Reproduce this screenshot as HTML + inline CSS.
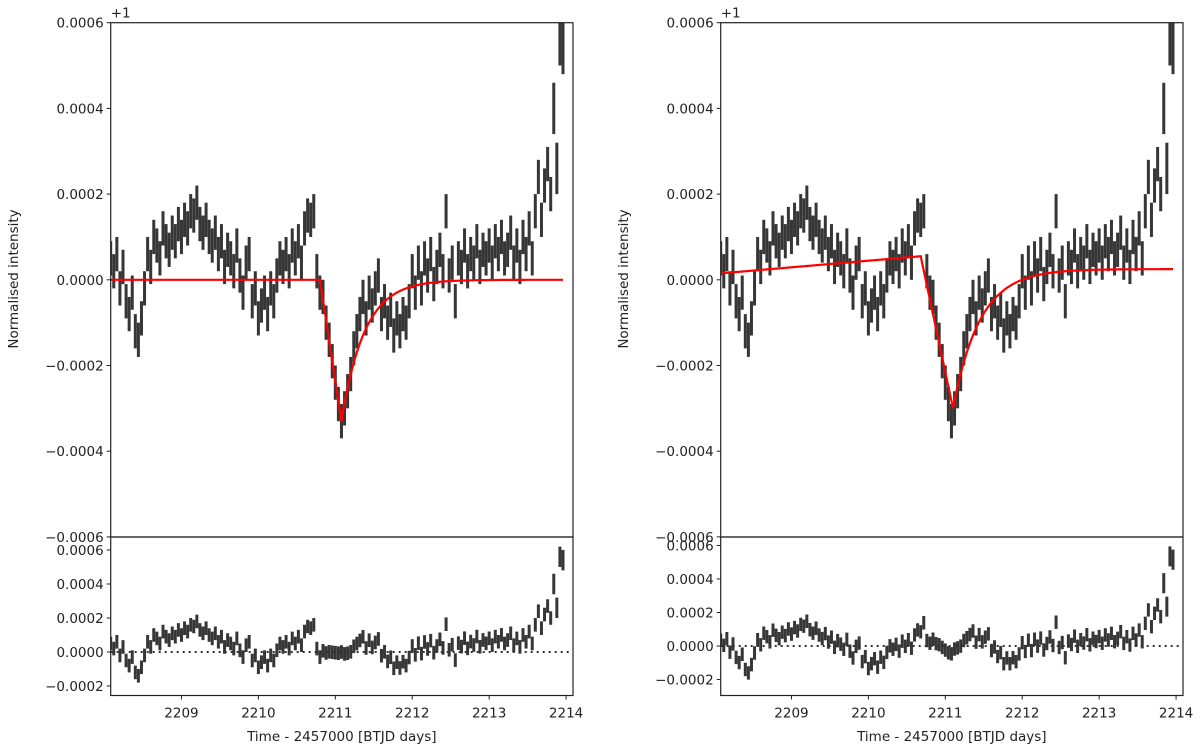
<!DOCTYPE html>
<html><head><meta charset="utf-8">
<style>
html,body{margin:0;padding:0;background:#fff;}
svg{display:block;font-family:"DejaVu Sans","Liberation Sans",sans-serif;}
</style></head>
<body>
<svg id="chart" width="1200" height="752" viewBox="0 0 1200 752" xmlns="http://www.w3.org/2000/svg"></svg>
<script>
// Data (flux offsets in units of 1e-4, relative to +1)
const startTime = 2208.08;
const timeStep = 0.04;
const fluxValues = [0.5,0.2,0.6,-0.2,0.3,-0.5,-0.8,-0.3,-1.2,-1.4,-0.9,
-0.2,0.6,0.3,1.0,0.8,0.5,1.2,0.9,0.7,1.1,0.9,1.3,1.0,
1.4,1.2,1.6,1.5,1.8,1.3,1.1,1.4,
1.0,0.8,1.1,0.6,0.9,0.3,0.7,0.5,0.2,0.8,0.1,-0.3,0.4,0.6,-0.5,-0.2,-0.9,
-0.6,-0.3,-0.8,-0.2,-0.5,0.1,0.5,0.3,
0.6,0.2,0.8,0.5,0.9,0.4,1.2,1.5,1.4,1.6,0.2,
-0.3,-0.4,-1.0,-1.4,-1.9,-2.4,-2.9,-3.3,-3.0,-2.6,-2.2,-1.6,-1.2,-0.8,-0.4,-0.9,-0.3,-0.6,-0.2,0.1,
-0.8,-0.5,-1.0,-0.7,-1.3,-0.9,-1.2,-0.8,-1.0,-0.5,0.2,-0.3,0.4,-0.2,0.5,0.1,0.6,-0.1,0.3,0.7,0.2,1.6,0.1,0.4,-0.5,
0.5,0.3,0.8,0.2,0.6,0.4,0.9,0.3,0.7,0.5,0.8,0.4,0.9,0.6,1.0,0.5,0.7,1.1,0.4,0.8,0.3,1.0,0.6,1.2,0.5,
1.6,2.4,1.4,2.2,2.7,2.0,4.0,2.6,5.6,5.4];
const fluxErrors = fluxValues.map((v,i)=> i>=144 ? 0.6 : 0.4);
const xTicks = [2209,2210,2211,2212,2213,2214];
const mainYTicks = [0.0006,0.0004,0.0002,0,-0.0002,-0.0004,-0.0006];
const mainYLabels = ["0.0006","0.0004","0.0002","0.0000","\u22120.0002","\u22120.0004","\u22120.0006"];
const residYTicks = [0.0006,0.0004,0.0002,0,-0.0002];
const residYLabels = ["0.0006","0.0004","0.0002","0.0000","\u22120.0002"];
// model parameters (units 1e-4): [startT, baseStart, baseEnd, dipT0, minT, depth, tau, recoveryLevel]
const modelLeft = [2210.8, 0, 0, 2210.8, 2211.08, -3.3, 0.30, 0];
const modelRight = [2208.08, 0.15, 0.55, 2210.68, 2211.1, -3.0, 0.35, 0.25];

const NS="http://www.w3.org/2000/svg";
const svg=document.getElementById('chart');
function mk(tag,attrs,parent){const e=document.createElementNS(NS,tag);for(const k in attrs)e.setAttribute(k,attrs[k]);(parent||svg).appendChild(e);return e;}
const times=fluxValues.map((v,i)=>startTime+timeStep*i);
function model(p,t){
  const [t0,b0,b1,td,tm,dep,tau,rec]=p;
  if(t<=td){return b0+(b1-b0)*(t-2208.08)/(td-2208.08||1);}
  if(t<=tm){return b1+(dep-b1)*(t-td)/(tm-td);}
  return rec+(dep-rec)*Math.exp(-(t-tm)/tau);
}

function panel(name,L,R,residTop,residZero,residPer,mp,ylabX){
  const T=22.7,B=537,MB=695.5;
  const x=t=>L+(t-2208.08)/(2214.09-2208.08)*(R-L);
  const ym=v=>279.8-v*1e4*(85.7/2);
  const yr=v=>residZero-v*1e4*(residPer/2);
  const g=mk('g',{});
  
  
  const clipId=name+'-clip-main', clipId2=name+'-clip-res';
  const defs=mk('defs',{},g);
  const c1=mk('clipPath',{id:clipId},defs);mk('rect',{x:L,y:T,width:R-L,height:B-T},c1);
  const c2=mk('clipPath',{id:clipId2},defs);mk('rect',{x:L,y:B,width:R-L,height:MB-B},c2);
  const dm=mk('g',{'clip-path':`url(#${clipId})`,stroke:'#1a1a1a','stroke-width':3,'stroke-opacity':0.88},g);
  
  
  times.forEach((t,i)=>{const v=fluxValues[i]*1e-4,e=fluxErrors[i]*1e-4;
    const ln=mk('line',{x1:x(t),x2:x(t),y1:ym(v-e),y2:ym(v+e)},dm);
    
    });
  let d='';for(let t=2208.08;t<=2213.97;t+=0.01){d+=(d?'L':'M')+x(t).toFixed(1)+','+ym(model(mp,t)*1e-4).toFixed(1);}
  const mline=mk('path',{d,fill:'none',stroke:'#ff0000','stroke-width':2.2,'clip-path':`url(#${clipId})`},g);
  
  
  const dr=mk('g',{'clip-path':`url(#${clipId2})`,stroke:'#1a1a1a','stroke-width':3,'stroke-opacity':0.88},g);
  
  
  times.forEach((t,i)=>{const r=(fluxValues[i]-model(mp,t))*1e-4,e=fluxErrors[i]*1e-4;
    const ln=mk('line',{x1:x(t),x2:x(t),y1:yr(r-e),y2:yr(r+e)},dr);
    
    });
  const zl=mk('line',{x1:L,x2:R,y1:yr(0),y2:yr(0),stroke:'#333','stroke-width':2,'stroke-dasharray':'2,4'},g);
  
  
  const f1=mk('rect',{x:L,y:T,width:R-L,height:B-T,fill:'none',stroke:'#222','stroke-width':1.2},g);
  
  const f2=mk('rect',{x:L,y:B,width:R-L,height:MB-B,fill:'none',stroke:'#222','stroke-width':1.2},g);
  
  mainYTicks.forEach((v,i)=>{const yy=ym(v);
    mk('line',{x1:L-4,x2:L,y1:yy,y2:yy,stroke:'#222'},g);
    const tx=mk('text',{x:L-7,y:yy+5,'text-anchor':'end','font-size':13.5,fill:'#222'},g);
    tx.textContent=mainYLabels[i];
    });
  residYTicks.forEach((v,i)=>{const yy=yr(v);
    mk('line',{x1:L-4,x2:L,y1:yy,y2:yy,stroke:'#222'},g);
    const tx=mk('text',{x:L-7,y:yy+5,'text-anchor':'end','font-size':13.5,fill:'#222'},g);
    tx.textContent=residYLabels[i];
    });
  xTicks.forEach(v=>{const xx=x(v);
    mk('line',{x1:xx,x2:xx,y1:MB,y2:MB+4,stroke:'#222'},g);
    const tx=mk('text',{x:xx,y:MB+22,'text-anchor':'middle','font-size':13.5,fill:'#222'},g);
    tx.textContent=String(v);
    });
  const off=mk('text',{x:L,y:T-5,'font-size':13.5,fill:'#222'},g);off.textContent='+1';
  
  const yl=mk('text',{x:ylabX,y:279,'text-anchor':'middle','font-size':13.5,fill:'#222',transform:`rotate(-90 ${ylabX} 279)`},g);
  yl.textContent='Normalised intensity';
  
  const xl=mk('text',{x:(L+R)/2,y:741,'text-anchor':'middle','font-size':13.5,fill:'#222'},g);
  xl.textContent='Time - 2457000 [BTJD days]';
  
}
panel('left-panel',110.7,573,537,652,34,modelLeft,18);
panel('right-panel',720.7,1183,537,646,33.5,modelRight,628);
</script>
</body></html>
